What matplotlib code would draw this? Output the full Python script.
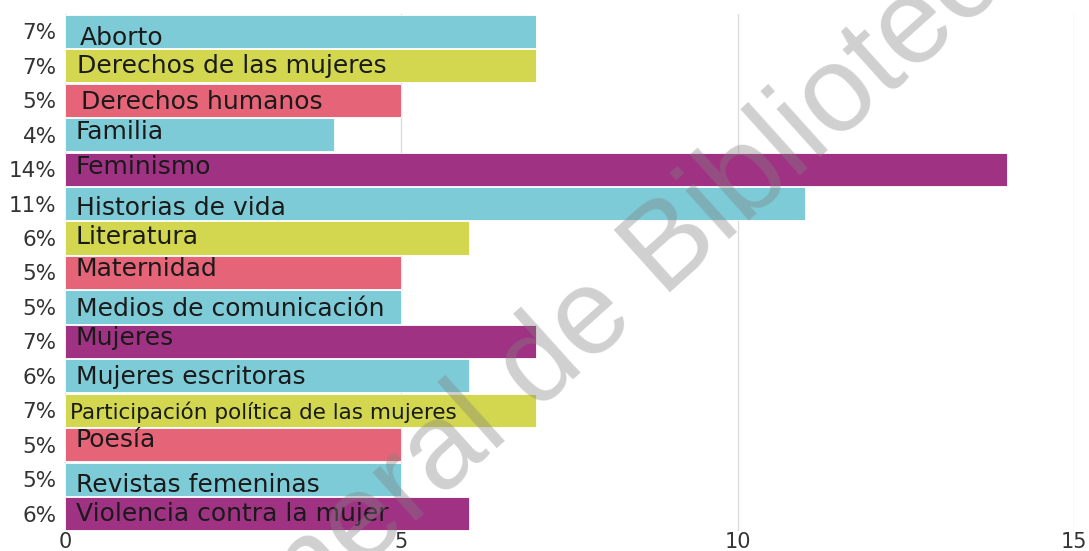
import matplotlib
matplotlib.use('Agg')
import matplotlib.pyplot as plt

# datos
temas = ['Aborto', 'Derechos de las mujeres', 'Derechos humanos', 'Familia',
         'Feminismo', 'Historias de vida', 'Literatura', 'Maternidad',
         'Medios de comunicación', 'Mujeres', 'Mujeres escritoras',
         'Participación política de las mujeres', 'Poesía',
         'Revistas femeninas', 'Violencia contra la mujer']
valores = [7, 7, 5, 4, 14, 11, 6, 5, 5, 7, 6, 7, 5, 5, 6]
porcentajes = ['7%', '7%', '5%', '4%', '14%', '11%', '6%', '5%', '5%',
               '7%', '6%', '7%', '5%', '5%', '6%']
ticks_x = [0, 5, 10, 15]

# estilo
paleta = ['#7ecbd8', '#d2d74f', '#e66477', '#7ecbd8', '#a03283']
# pequeños desplazamientos del texto (en pixeles, + hacia abajo)
desp_y = [7, 0, 2, -3, -2, 4, -1, -3, 2, -3, 1, 2, -5, 6, 0]
desp_x = [15, 12, 16, 11, 11, 11, 11, 11, 11, 11, 11, 5, 11, 11, 11]

plt.rcParams['font.family'] = ['DejaVu Sans']

fig = plt.figure(figsize=(10.89, 5.51), dpi=100)
ax = fig.add_axes([65 / 1089, 1 - 531 / 551, (1074 - 65) / 1089, 517 / 551])

pos = list(range(len(temas)))
colores = [paleta[i % len(paleta)] for i in pos]
ax.barh(pos, valores, height=0.96, color=colores, edgecolor='white',
        linewidth=0.6, zorder=2)

ax.set_xlim(0, 15)
ax.set_ylim(len(temas) - 0.5, -0.5)
ax.set_xticks(ticks_x)
ax.set_xticklabels([str(t) for t in ticks_x], fontsize=15, color='#333333')
ax.set_yticks(pos)
ax.set_yticklabels(porcentajes, fontsize=15.5, color='#333333')
ax.tick_params(axis='both', length=0)
ax.tick_params(axis='x', pad=1)
ax.tick_params(axis='y', pad=6)
ax.grid(axis='x', color='#dddddd', linewidth=1, zorder=0)
for s in ax.spines.values():
    s.set_visible(False)

px = 1 / 517 * 15  # pixeles -> unidades en y
ux = 15 / (1074 - 65)
for i, t in enumerate(temas):
    fs = 15.5 if i == 11 else 18
    ax.text(desp_x[i] * ux, i + desp_y[i] * px, t, fontsize=fs,
            color='#1a1a1a', va='center', ha='left', zorder=3)

# marca de agua
fig.text(624 / 1089, 1 - 291 / 551, 'General de Bibliotecas', fontsize=88,
         family='Liberation Sans', color='#808080', alpha=0.37, rotation=42,
         ha='center', va='center', rotation_mode='anchor', zorder=10)

fig.savefig('out.png', dpi=100)
